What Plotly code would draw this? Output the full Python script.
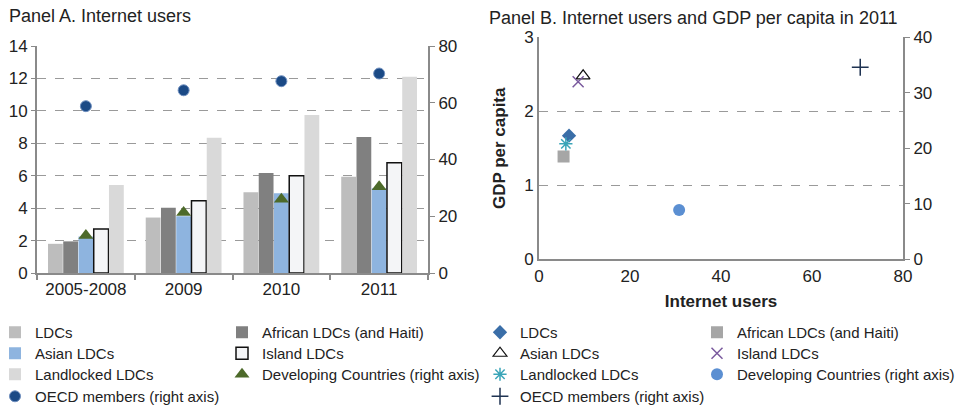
import plotly.graph_objects as go

# The page body has an 8px margin, so the figure is drawn 8px in from the
# window's top-left corner; size and place it for that.
PAGE_W, PAGE_H = 970, 408
OFF = 8
W, H = PAGE_W - OFF, PAGE_H - OFF

# ---------------- Data ----------------
periods = ["2005-2008", "2009", "2010", "2011"]
ldcs = [1.8, 3.42, 4.98, 5.94]
african_ldcs = [1.95, 4.03, 6.17, 8.38]
asian_ldcs = [2.25, 3.5, 4.92, 5.23]
island_ldcs = [2.72, 4.45, 6.0, 6.8]
landlocked_ldcs = [5.43, 8.34, 9.74, 12.11]
developing_right = [13.2, 21.3, 26.0, 30.4]
oecd_right = [58.8, 64.4, 67.6, 70.3]

# Panel B (2011): internet users (x) and GDP per capita (y)
b_groups = ["LDCs", "African LDCs (and Haiti)", "Asian LDCs", "Island LDCs", "Landlocked LDCs"]
b_internet = [6.6, 5.4, 9.7, 8.6, 5.9]
b_gdp = [1.67, 1.39, 2.48, 2.40, 1.56]
dev_internet, dev_gdp_right = [30.8], [8.9]
oecd_internet, oecd_gdp_right = [70.6], [34.6]

FONT = "Liberation Sans, Arial, sans-serif"
TXT = "#222222"
AX = "#8a8a8a"
GRID = "#9a9a9a"

def px_x(p):
    return (p - OFF) / W

def px_y(p):
    return 1 - (p - OFF) / H

# legend slots: (column x in page px, row index)
COLS_A = [-5, 222]
COLS_B = [480, 697]
ROWS = [331, 352, 373, 395]
slots = {}
legend_layout = {}

def slot(col_x, row):
    key = "legend" if not slots else "legend%d" % (len(slots) + 1)
    slots[key] = (col_x, row)
    return key

fig = go.Figure()

bar_specs = [
    ("LDCs", ldcs, "#bdbdbd", "#bdbdbd", 0, (0, 0)),
    ("African LDCs (and Haiti)", african_ldcs, "#808080", "#808080", 0, (1, 0)),
    ("Asian LDCs", asian_ldcs, "#8eb4df", "#8eb4df", 0, (0, 1)),
    ("Island LDCs", island_ldcs, "#f4f5f7", "#111111", 1.5, (1, 1)),
    ("Landlocked LDCs", landlocked_ldcs, "#d9d9d9", "#d9d9d9", 0, (0, 2)),
]
for name, vals, col, lc, lw, (c, r) in bar_specs:
    fig.add_trace(go.Bar(
        x=periods, y=vals, name=name, marker=dict(color=col, line=dict(color=lc, width=lw)),
        xaxis="x", yaxis="y", legend=slot(COLS_A[c], r), showlegend=True,
    ))

fig.add_trace(go.Scatter(
    x=periods, y=developing_right, mode="markers", name="Developing Countries (right axis)",
    marker=dict(symbol="triangle-up", size=13, color="#4d6a2a"),
    xaxis="x", yaxis="y2", legend=slot(COLS_A[1], 2), showlegend=True,
))
fig.add_trace(go.Scatter(
    x=periods, y=oecd_right, mode="markers", name="OECD members (right axis)",
    marker=dict(symbol="circle", size=11, color="#1b4a86", line=dict(color="#6f8fbf", width=1)),
    xaxis="x", yaxis="y2", legend=slot(COLS_A[0], 3), showlegend=True,
))

# Panel B
b_styles = [
    dict(symbol="diamond", size=11, color="#3a6ea8"),
    dict(symbol="square", size=12, color="#a6a6a6"),
    dict(symbol="triangle-up-open", size=12, color="#111111", line=dict(width=1.2)),
    dict(symbol="x-thin-open", size=11, color="#7a5a9e", line=dict(width=1.5, color="#7a5a9e")),
    dict(symbol="asterisk-open", size=11, color="#3aa5b8", line=dict(width=1.5, color="#3aa5b8")),
]
b_slots = [(0, 0), (1, 0), (0, 1), (1, 1), (0, 2)]
for i, name in enumerate(b_groups):
    c, r = b_slots[i]
    fig.add_trace(go.Scatter(
        x=[b_internet[i]], y=[b_gdp[i]], mode="markers", name=name, marker=b_styles[i],
        xaxis="x2", yaxis="y3", legend=slot(COLS_B[c], r), showlegend=True,
    ))
fig.add_trace(go.Scatter(
    x=dev_internet, y=dev_gdp_right, mode="markers", name="Developing Countries (right axis)",
    marker=dict(symbol="circle", size=12, color="#5b8fd2"),
    xaxis="x2", yaxis="y4", legend=slot(COLS_B[1], 2), showlegend=True,
))
fig.add_trace(go.Scatter(
    x=oecd_internet, y=oecd_gdp_right, mode="markers", name="OECD members (right axis)",
    marker=dict(symbol="cross-thin-open", size=12, color="#1f3352", line=dict(width=1.5, color="#1f3352")),
    xaxis="x2", yaxis="y4", legend=slot(COLS_B[0], 3), showlegend=True,
))

tickfont = dict(family=FONT, size=17, color=TXT)
legfont = dict(family=FONT, size=15, color=TXT)
titlefont = dict(family=FONT, size=18, color=TXT)

for key, (col_x, row) in slots.items():
    legend_layout[key] = dict(
        x=px_x(col_x), y=px_y(ROWS[row] - 15), xanchor="left", yanchor="top",
        orientation="v", font=legfont, bgcolor="rgba(0,0,0,0)", itemwidth=30,
    )

fig.update_layout(
    width=W, height=H, margin=dict(l=0, r=0, t=0, b=0, autoexpand=False),
    showlegend=True,
    paper_bgcolor="white", plot_bgcolor="white",
    font=dict(family=FONT, color=TXT),
    barmode="group", bargap=0.22, bargroupgap=0.03,
    xaxis=dict(domain=[px_x(37), px_x(428)], anchor="y", type="category", automargin=False,
               showline=True, linecolor=AX, linewidth=2, ticks="outside", tickson="boundaries",
               ticklen=5, tickcolor=AX, tickwidth=1.5, tickfont=tickfont, showgrid=False),
    yaxis=dict(domain=[px_y(273), px_y(46)], range=[0, 14], dtick=2, anchor="x", automargin=False,
               showline=True, linecolor=AX, linewidth=2, ticks="outside", ticklen=4,
               tickcolor=AX, tickfont=tickfont, showgrid=True, gridcolor=GRID, griddash="dash",
               gridwidth=1, zeroline=False),
    yaxis2=dict(range=[0, 80], dtick=20, overlaying="y", side="right", anchor="x", automargin=False,
                showline=True, linecolor=AX, linewidth=2, ticks="outside", ticklen=5,
                tickcolor=AX, tickfont=tickfont, showgrid=False, zeroline=False),
    xaxis2=dict(domain=[px_x(539), px_x(903)], anchor="y3", range=[0, 80], dtick=20, automargin=False,
                showline=True, linecolor=AX, linewidth=2, ticks="", tickfont=tickfont,
                showgrid=False, zeroline=False,
                title=dict(text="<b>Internet users</b>", font=dict(family=FONT, size=17, color=TXT),
                           standoff=10)),
    yaxis3=dict(domain=[px_y(259.3), px_y(37.3)], anchor="x2", range=[0, 3], dtick=1, automargin=False,
                showline=True, linecolor=AX, linewidth=2, ticks="", tickfont=tickfont,
                showgrid=True, gridcolor=GRID, griddash="dash", gridwidth=1, zeroline=False,
                title=dict(text="<b>GDP per capita</b>", font=dict(family=FONT, size=17, color=TXT),
                           standoff=14)),
    yaxis4=dict(range=[0, 40], dtick=10, overlaying="y3", side="right", anchor="x2", automargin=False,
                showline=True, linecolor=AX, linewidth=2, ticks="outside", ticklen=5,
                tickcolor=AX, tickfont=tickfont, showgrid=False, zeroline=False),
    annotations=[
        dict(text="Panel A. Internet users", x=px_x(7), y=px_y(16.5), xref="paper", yref="paper",
             xanchor="left", yanchor="middle", showarrow=False, font=titlefont),
        dict(text="Panel B. Internet users and GDP per capita in 2011", x=px_x(487), y=px_y(18),
             xref="paper", yref="paper", xanchor="left", yanchor="middle", showarrow=False,
             font=titlefont),
    ],
    **legend_layout,
)

fig.write_html("out.html")
